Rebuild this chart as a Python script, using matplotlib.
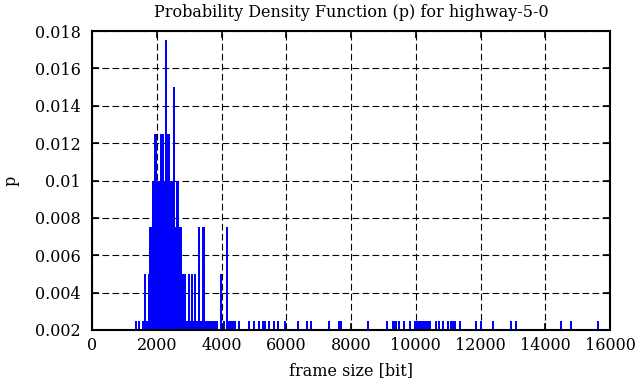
import matplotlib
matplotlib.use("Agg")
import matplotlib.pyplot as plt
from matplotlib.ticker import FixedLocator

# frame sizes (bits) and probability values
frame_sizes = [
    1374, 1461, 1563, 1594, 1637, 1683, 1714, 1761, 1789, 1813, 1850,
    1874, 1897, 1930, 1955, 1977, 2004, 2032, 2063, 2088, 2122, 2153, 2184, 2208,
    2239, 2289, 2315, 2341, 2372, 2391, 2412, 2431, 2462, 2490, 2533, 2560, 2588,
    2618, 2647, 2675, 2700, 2730, 2758, 2780, 2802, 2832, 2860, 2885, 2919, 2947,
    2990, 3036, 3083, 3129, 3175, 3200, 3225, 3252, 3274, 3296, 3320, 3345, 3367,
    3394, 3413, 3436, 3459, 3486, 3512, 3543, 3574, 3605, 3636, 3666, 3697,
    3728, 3759, 3790, 3876, 3978, 4083, 4161, 4190, 4216, 4247, 4278,
    4309, 4340, 4371, 4402, 4426, 4547, 4850, 4998, 5168, 5288,
    5354, 5452, 5637, 5730, 5946, 6354, 6656, 6774, 7315, 7614,
    7700, 8516, 9103, 9282, 9313, 9344, 9381, 9492, 9646, 9807,
    9977, 10008, 10039, 10070, 10100, 10131, 10162, 10193, 10224, 10255,
    10286, 10317, 10347, 10378, 10409, 10440, 10616, 10724, 10848, 10981,
    11089, 11120, 11151, 11181, 11212, 11361, 11855, 12009, 12392, 12936,
    13087, 14477, 14786, 15629,
]
probabilities = [
    0.0025, 0.0025, 0.0025, 0.0025, 0.005, 0.0025, 0.0025, 0.005, 0.0075, 0.0075, 0.0075,
    0.01, 0.01, 0.01, 0.0125, 0.0125, 0.01, 0.01, 0.01, 0.01, 0.0125, 0.0125, 0.0125, 0.0125,
    0.01, 0.0175, 0.0125, 0.0125, 0.0125, 0.0125, 0.01, 0.01, 0.01, 0.01, 0.015, 0.0075, 0.0075,
    0.01, 0.01, 0.0075, 0.0075, 0.0075, 0.0075, 0.005, 0.005, 0.005, 0.005, 0.005, 0.0025, 0.0025,
    0.005, 0.0025, 0.005, 0.0025, 0.005, 0.0025, 0.0025, 0.0025, 0.0025, 0.0075, 0.0075, 0.0025, 0.0025,
    0.0025, 0.0025, 0.0075, 0.0075, 0.0025, 0.0025, 0.0025, 0.0025, 0.0025, 0.0025, 0.0025, 0.0025,
    0.0025, 0.0025, 0.0025, 0.0025, 0.005, 0.0025, 0.0075, 0.0025, 0.0025, 0.0025, 0.0025,
    0.0025, 0.0025, 0.0025, 0.0025, 0.0025, 0.0025, 0.0025, 0.0025, 0.0025, 0.0025,
    0.0025, 0.0025, 0.0025, 0.0025, 0.0025, 0.0025, 0.0025, 0.0025, 0.0025, 0.0025,
    0.0025, 0.0025, 0.0025, 0.0025, 0.0025, 0.0025, 0.0025, 0.0025, 0.0025, 0.0025,
    0.0025, 0.0025, 0.0025, 0.0025, 0.0025, 0.0025, 0.0025, 0.0025, 0.0025, 0.0025,
    0.0025, 0.0025, 0.0025, 0.0025, 0.0025, 0.0025, 0.0025, 0.0025, 0.0025, 0.0025,
    0.0025, 0.0025, 0.0025, 0.0025, 0.0025, 0.0025, 0.0025, 0.0025, 0.0025, 0.0025,
    0.0025, 0.0025, 0.0025, 0.0025,
]

x_ticks = [0, 2000, 4000, 6000, 8000, 10000, 12000, 14000, 16000]
x_tick_labels = ["0", "2000", "4000", "6000", "8000", "10000", "12000", "14000", "16000"]
y_ticks = [0.002, 0.004, 0.006, 0.008, 0.01, 0.012, 0.014, 0.016, 0.018]
y_tick_labels = ["0.002", "0.004", "0.006", "0.008", "0.01", "0.012", "0.014", "0.016", "0.018"]

title = "Probability Density Function (p) for highway-5-0"
x_label = "frame size [bit]"
y_label = "p"

plt.rcParams['font.family'] = ['DejaVu Serif']

fig = plt.figure(figsize=(6.36, 3.87), dpi=100)
ax = fig.add_axes([92/636, 1 - 330/387, 518/636, 299/387])

ax.set_xlim(0, 16000)
ax.set_ylim(0.002, 0.018)

ax.xaxis.set_major_locator(FixedLocator(x_ticks))
ax.yaxis.set_major_locator(FixedLocator(y_ticks))
ax.set_xticklabels(x_tick_labels, fontsize=11.5)
ax.set_yticklabels(y_tick_labels, fontsize=11.5)

ax.grid(True, color='black', linestyle=(0, (6, 3)), linewidth=0.8, zorder=0)
ax.set_axisbelow(True)

ax.vlines(frame_sizes, 0, probabilities, colors='#0000ff', linewidth=1.1,
          capstyle='butt', antialiased=False, zorder=3)

for s in ax.spines.values():
    s.set_linewidth(1.5)
    s.set_zorder(4)

ax.tick_params(direction='in', length=5, width=1.2, top=True, right=True)
ax.tick_params(axis='x', pad=5)
ax.tick_params(axis='y', pad=8)

ax.set_title(title, fontsize=11.5, pad=10)
ax.set_xlabel(x_label, fontsize=11.5, labelpad=6)
ax.set_ylabel(y_label, fontsize=11.5, labelpad=11)

fig.savefig("out.png", dpi=100)
